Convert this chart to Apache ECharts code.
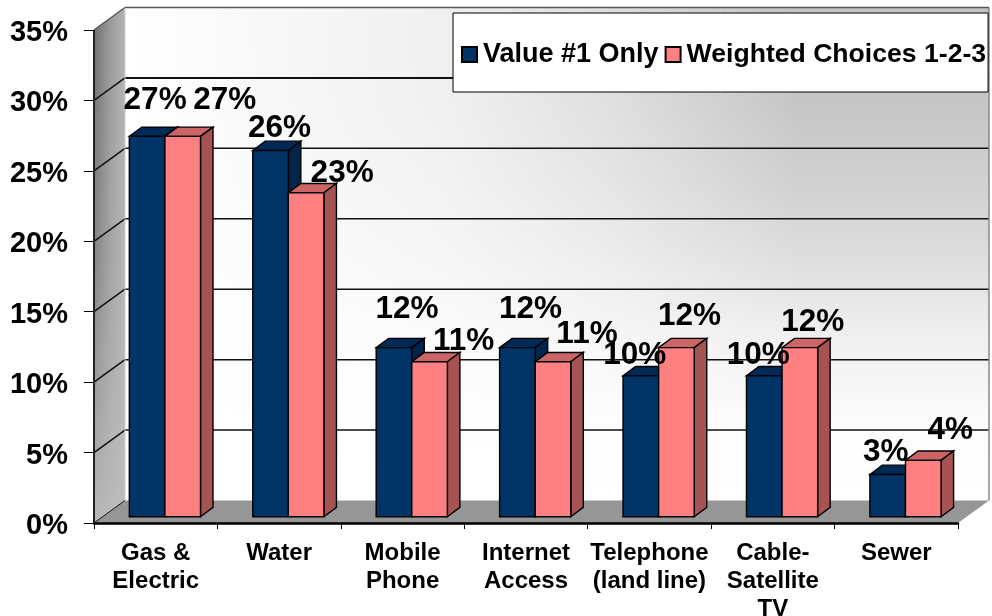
<!DOCTYPE html>
<html><head><meta charset="utf-8">
<style>html,body{margin:0;padding:0;background:#fff}#c{width:992px;height:616px}</style>
<script src="https://cdn.jsdelivr.net/npm/echarts@6/dist/echarts.min.js"></script>
</head><body><div id="c"></div>
<script>
const categories = ['Gas &\nElectric','Water','Mobile\nPhone','Internet\nAccess','Telephone\n(land line)','Cable-\nSatellite\nTV','Sewer'];
const value1 = [27,26,12,12,10,10,3];
const weighted = [27,23,11,11,12,12,4];
const yTicks = [0,5,10,15,20,25,30,35];

// Style constants (3D projection and hand-placed label nudges, px)
const WALL = [31,-22.5], PLANE = [9.2,-6.3], DEPTH = [12.5,-9.3], BAR_W = 35.6;
const NUDGE1 = [[8,-36],[9,-22],[13,-38],[13,-38],[-6,-21],[-6,-21],[-2,-22.5]];
const NUDGE2 = [[42,-36],[36,-19],[34,-20],[34,-27],[13,-31],[13,-25],[27,-30]];
const NAVY='#003366', NAVY_T='#002a55', NAVY_S='#00244a', PINK='#ff8080', PINK_T='#cc6666', PINK_S='#a65353';
const G = echarts.graphic;

function poly(pts, fill, stroke, lw){
  return {type:'polygon',shape:{points:pts},style:{fill:fill,stroke:stroke||null,lineWidth:lw||0}};
}
function line(a,b,color,w){
  return {type:'line',shape:{x1:a[0],y1:a[1],x2:b[0],y2:b[1]},style:{stroke:color,lineWidth:w,fill:null}};
}
const add=(p,o)=>[p[0]+o[0],p[1]+o[1]];

function renderWalls(params, api){
  const a0=api.coord([0,0]);
  const sz=api.size([1,0]);
  const x0=a0[0]-sz[0]/2, y0=a0[1];
  const x1=x0+sz[0]*categories.length;
  const yTop=api.coord([0,35])[1];
  const kids=[];
  const FL=[x0,y0], BL=add(FL,WALL), BR=[x1+WALL[0],y0+WALL[1]], FR=[x1,y0];
  const TL=[x0,yTop], BTL=add(TL,WALL), BTR=[x1+WALL[0],yTop+WALL[1]];
  const back=[BTL,BTR,BR,BL], side=[TL,BTL,BL,FL];
  kids.push(poly(back, new G.LinearGradient(0,0,0,1,[{offset:0,color:'#c4c4c4'},{offset:0.19,color:'#c6c6c6'},{offset:0.35,color:'#d0d0d0'},{offset:0.49,color:'#dcdcdc'},{offset:0.65,color:'#eeeeee'},{offset:0.86,color:'#fdfdfd'},{offset:1,color:'#ffffff'}])));
  kids.push(poly(back, new G.LinearGradient(0,0,1,0,[{offset:0,color:'rgba(255,255,255,1)'},{offset:0.37,color:'rgba(255,255,255,0.74)'},{offset:0.55,color:'rgba(255,255,255,0.47)'},{offset:0.78,color:'rgba(255,255,255,0)'},{offset:1,color:'rgba(255,255,255,0)'}])));
  kids.push(poly(side, new G.LinearGradient(0,0,1,0,[{offset:0,color:'#6e6e6e'},{offset:0.5,color:'#999999'},{offset:1,color:'#b4b4b4'}])));
  kids.push(poly(side, new G.LinearGradient(0,0,0,1,[{offset:0,color:'rgba(190,190,190,0)'},{offset:0.5,color:'rgba(190,190,190,0.3)'},{offset:1,color:'rgba(190,190,190,0.9)'}])));
  kids.push(poly([FL,BL,BR,FR],'#969696'));
  yTicks.forEach(v=>{
    const y=api.coord([0,v])[1];
    const f=[x0,y], b=add(f,WALL), r=[x1+WALL[0],y+WALL[1]];
    const w = v===30?2:1.5, c = v===35?'#555':'#111';
    kids.push(line(f,b,c,v===0?1:1.5));
    if(v!==0) kids.push(line(b,r,c,w));
  });
  kids.push(line(BR,[BR[0],BTR[1]],'#888',1.5));
  kids.push(line(BL,[BL[0],BTL[1]],'#ccc',1));
  kids.push(line(FL,TL,'#222',2));
  return {type:'group',children:kids};
}
function makeBarRender(side, front, top, sideC){
  return function(params, api){
    const v=api.value(1), c=api.value(0);
    const base=api.coord([c,0]), tp=api.coord([c,v]);
    const xl = base[0]+PLANE[0]+(side<0?-BAR_W:0), xr=xl+BAR_W;
    const yb=base[1]+PLANE[1], yt=tp[1]+PLANE[1];
    const s='#000', lw=1.4;
    return {type:'group',children:[
      poly([[xl,yt],[xr,yt],[xr+DEPTH[0],yt+DEPTH[1]],[xl+DEPTH[0],yt+DEPTH[1]]],top,s,lw),
      poly([[xr,yt],[xr+DEPTH[0],yt+DEPTH[1]],[xr+DEPTH[0],yb+DEPTH[1]],[xr,yb]],sideC,s,lw),
      poly([[xl,yt],[xr,yt],[xr,yb],[xl,yb]],front,s,lw)
    ]};
  };
}
function renderLabel(params, api){
  const i=api.value(0), v=api.value(1), which=api.value(2);
  const tp=api.coord([i,v]);
  const n=(which===0?NUDGE1:NUDGE2)[i];
  const cx=tp[0]+PLANE[0]+(which===0?-BAR_W/2:BAR_W/2)+n[0];
  const cy=tp[1]+PLANE[1]+n[1];
  return {type:'text',style:{x:cx,y:cy,text:v+'%',align:'center',verticalAlign:'middle',
    font:'bold 31.5px "Liberation Sans", Arial, sans-serif',fill:'#000'}};
}
const labelData=[];
value1.forEach((v,i)=>labelData.push([i,v,0]));
weighted.forEach((v,i)=>labelData.push([i,v,1]));

const chart=echarts.init(document.getElementById('c'),null,{renderer:'canvas'});
chart.setOption({
  animation:false,
  backgroundColor:'#fff',
  textStyle:{fontFamily:'"Liberation Sans", Arial, sans-serif'},
  grid:{left:94,top:30,width:864,height:493,containLabel:false,outerBoundsMode:'none'},
  legend:{
    data:[{name:'Value #1 Only'},{name:'Weighted Choices 1-2-3',textStyle:{fontSize:26.6}}],
    left:453,top:13,padding:[28,2,24,8],itemGap:6,itemWidth:15,itemHeight:15,
    backgroundColor:'#fff',borderColor:'#000',borderWidth:1,borderRadius:0,
    icon:'rect',
    textStyle:{fontSize:27,fontWeight:'bold',color:'#000',padding:[0,0,0,1]},
    itemStyle:{borderColor:'#000',borderWidth:2},
    z:20
  },
  xAxis:{type:'category',data:categories,
    axisLine:{lineStyle:{color:'#000',width:2.5}},
    axisTick:{show:true,length:6,lineStyle:{color:'#000',width:1},alignWithLabel:false},
    axisLabel:{interval:0,fontSize:24,fontWeight:'bold',color:'#000',lineHeight:28,margin:16,
      fontFamily:'"Liberation Sans", Arial, sans-serif'},
    splitLine:{show:false}},
  yAxis:{type:'value',min:0,max:35,interval:5,
    axisLine:{show:false},
    axisTick:{show:true,length:10,lineStyle:{color:'#000',width:1}},
    axisLabel:{fontSize:29,fontWeight:'bold',color:'#000',margin:26,verticalAlign:'top',lineHeight:6,formatter:'{value}%',
      fontFamily:'"Liberation Sans", Arial, sans-serif'},
    splitLine:{show:false}},
  series:[
    {type:'custom',name:'wall',silent:true,z:0,clip:false,renderItem:renderWalls,data:[[0,0]],encode:{x:0,y:1}},
    {type:'custom',name:'Value #1 Only',z:2,clip:false,itemStyle:{color:NAVY},renderItem:makeBarRender(-1,NAVY,NAVY_T,NAVY_S),
     data:value1.map((v,i)=>[i,v]),encode:{x:0,y:1}},
    {type:'custom',name:'Weighted Choices 1-2-3',z:3,clip:false,itemStyle:{color:PINK},renderItem:makeBarRender(1,PINK,PINK_T,PINK_S),
     data:weighted.map((v,i)=>[i,v]),encode:{x:0,y:1}},
    {type:'custom',name:'labels',silent:true,z:10,clip:false,renderItem:renderLabel,data:labelData,encode:{x:0,y:1}}
  ]
});
</script></body></html>
